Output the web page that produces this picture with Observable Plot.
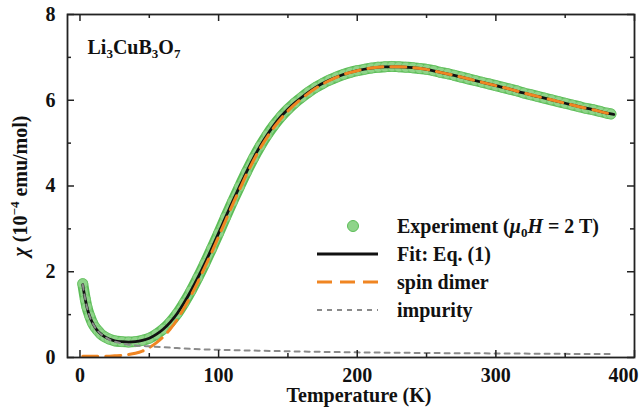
<!DOCTYPE html>
<html><head><meta charset="utf-8">
<script src="https://cdn.jsdelivr.net/npm/d3@7"></script>
<script src="https://cdn.jsdelivr.net/npm/@observablehq/plot@0.6"></script>
<style>
body{margin:0;background:#fff;}
#wrap{position:relative;width:639px;height:407px;overflow:hidden;}
#wrap svg{display:block;}
#legend{position:absolute;left:0;top:0;pointer-events:none;}
</style></head><body><div id="wrap"></div>
<script>
// ---- data ----
const expT = [2, 3.9, 5, 7, 9, 11, 13, 15, 18, 21, 25, 30, 35, 40, 45, 50, 55, 60, 65, 70, 75, 80, 85, 90, 95, 100, 105, 110, 115, 120, 125, 130, 135, 140, 145, 150, 155, 160, 165, 170, 175, 180, 185, 190, 195, 200, 205, 210, 215, 220, 225, 230, 235, 240, 245, 250, 255, 260, 265, 270, 275, 280, 285, 290, 295, 300, 305, 310, 315, 320, 325, 330, 335, 340, 345, 350, 355, 360, 365, 370, 375, 380, 383];
const expChi = [1.72, 1.35, 1.18, 0.97, 0.81, 0.70, 0.62, 0.55, 0.48, 0.43, 0.39, 0.37, 0.36, 0.37, 0.40, 0.45, 0.54, 0.66, 0.82, 1.02, 1.27, 1.55, 1.86, 2.19, 2.54, 2.90, 3.27, 3.63, 3.98, 4.32, 4.64, 4.93, 5.19, 5.42, 5.62, 5.79, 5.94, 6.07, 6.19, 6.30, 6.39, 6.47, 6.54, 6.60, 6.65, 6.69, 6.72, 6.75, 6.77, 6.78, 6.79, 6.78, 6.77, 6.76, 6.74, 6.72, 6.69, 6.65, 6.62, 6.58, 6.54, 6.50, 6.46, 6.42, 6.38, 6.34, 6.30, 6.26, 6.22, 6.17, 6.13, 6.09, 6.05, 6.01, 5.97, 5.93, 5.89, 5.85, 5.81, 5.78, 5.74, 5.70, 5.68];

const fitT = [2, 3, 4, 5, 6, 8, 10, 12, 15, 18, 21, 25, 30, 35, 40, 45, 50, 55, 60, 65, 70, 75, 80, 85, 90, 95, 100, 105, 110, 115, 120, 125, 130, 135, 140, 145, 150, 155, 160, 170, 180, 190, 200, 210, 220, 230, 240, 250, 260, 270, 280, 290, 300, 310, 320, 330, 340, 350, 360, 370, 380, 385];
const fitChi = [1.70, 1.50, 1.33, 1.18, 1.06, 0.88, 0.75, 0.65, 0.55, 0.48, 0.43, 0.39, 0.37, 0.36, 0.37, 0.40, 0.45, 0.54, 0.66, 0.82, 1.02, 1.27, 1.55, 1.86, 2.19, 2.54, 2.90, 3.27, 3.63, 3.98, 4.32, 4.64, 4.93, 5.19, 5.42, 5.62, 5.79, 5.94, 6.07, 6.30, 6.47, 6.60, 6.69, 6.75, 6.78, 6.78, 6.76, 6.72, 6.65, 6.58, 6.50, 6.42, 6.34, 6.26, 6.17, 6.09, 6.01, 5.93, 5.85, 5.78, 5.70, 5.67];

const dimerT = [2, 10, 20, 25, 30, 35, 40, 45, 50, 55, 60, 65, 70, 75, 80, 85, 90, 95, 100, 105, 110, 115, 120, 130, 140, 150, 160, 170, 180, 190, 200, 210, 220, 230, 240, 250, 260, 270, 280, 290, 300, 310, 320, 330, 340, 350, 360, 370, 380, 385];
const dimerChi = [0.03, 0.03, 0.03, 0.04, 0.05, 0.07, 0.10, 0.15, 0.23, 0.34, 0.48, 0.66, 0.88, 1.15, 1.44, 1.76, 2.10, 2.45, 2.82, 3.19, 3.56, 3.91, 4.26, 4.88, 5.37, 5.75, 6.04, 6.28, 6.46, 6.60, 6.69, 6.75, 6.78, 6.78, 6.76, 6.72, 6.65, 6.58, 6.50, 6.42, 6.34, 6.26, 6.17, 6.09, 6.01, 5.93, 5.85, 5.78, 5.70, 5.67];

const impT = [2, 3, 4, 5, 6, 8, 10, 12, 15, 18, 21, 25, 30, 35, 40, 45, 50, 60, 70, 80, 100, 120, 150, 200, 250, 300, 350, 385];
const impChi = [1.70, 1.50, 1.33, 1.18, 1.06, 0.88, 0.75, 0.65, 0.55, 0.48, 0.42, 0.37, 0.33, 0.30, 0.28, 0.27, 0.26, 0.24, 0.22, 0.20, 0.18, 0.165, 0.145, 0.12, 0.105, 0.095, 0.085, 0.08];

const xMajor = [0, 100, 200, 300, 400];
const xMinor = [50, 150, 250, 350];
const yMajor = [0, 2, 4, 6, 8];
const yMinor = [1, 3, 5, 7];
const xLabel = "Temperature (K)";
const yLabel = "χ (10−4 emu/mol)";
const compound = "Li3CuB3O7";
const legendNames = ["Experiment", "Fit: Eq. (1)", "spin dimer", "impurity"];

// ---- chart ----
const W = 639, H = 407, mL = 67, mR = 5, mT = 14, mB = 50;
const innerW = W - mL - mR, innerH = H - mT - mB;
const FONT = '"Liberation Serif","Times New Roman",serif';
const FS = 20;
const C = {exp: "#8fd48a", expEdge: "#5cbd58", fit: "#111111", dimer: "#f08522", imp: "#8a8a8a", axis: "#222"};
const txt = {fontFamily: FONT, fontWeight: "bold", fontSize: FS, fill: "#111"};

const rows = (ts, vs) => ts.map((t, i) => ({t, chi: vs[i]}));
const exp = rows(expT, expChi), fit = rows(fitT, fitChi), dimer = rows(dimerT, dimerChi), imp = rows(impT, impChi);

const chart = Plot.plot({
  width: W, height: H, marginLeft: mL, marginRight: mR, marginTop: mT, marginBottom: mB,
  style: {fontFamily: FONT, fontSize: FS + "px", fontWeight: "bold", color: "#111", background: "white", overflow: "visible"},
  x: {domain: [-9, 400]},
  y: {domain: [0, 8]},
  marks: [
    Plot.line(exp, {x: "t", y: "chi", stroke: C.expEdge, strokeWidth: 11, curve: "monotone-x"}),
    Plot.line(exp, {x: "t", y: "chi", stroke: C.exp, strokeWidth: 7.5, curve: "monotone-x"}),
    Plot.dot(exp, {x: "t", y: "chi", r: 5, fill: C.exp, stroke: "#6cc466", strokeWidth: 0.7}),
    Plot.line(fit, {x: "t", y: "chi", stroke: C.fit, strokeWidth: 2.8, curve: "monotone-x"}),
    Plot.line(dimer, {x: "t", y: "chi", stroke: C.dimer, strokeWidth: 3, strokeDasharray: "15,8", curve: "monotone-x"}),
    Plot.line(imp, {x: "t", y: "chi", stroke: C.imp, strokeWidth: 2, strokeDasharray: "5,5", curve: "monotone-x"}),
    // inward ticks on all four sides
    Plot.tickX(xMajor, {x: d => d, stroke: C.axis, strokeWidth: 1.5, insetTop: innerH - 7}),
    Plot.tickX(xMinor, {x: d => d, stroke: C.axis, strokeWidth: 1.5, insetTop: innerH - 4}),
    Plot.tickX(xMajor, {x: d => d, stroke: C.axis, strokeWidth: 1.5, insetBottom: innerH - 7}),
    Plot.tickX(xMinor, {x: d => d, stroke: C.axis, strokeWidth: 1.5, insetBottom: innerH - 4}),
    Plot.tickY(yMajor, {y: d => d, stroke: C.axis, strokeWidth: 1.5, insetRight: innerW - 7}),
    Plot.tickY(yMinor, {y: d => d, stroke: C.axis, strokeWidth: 1.5, insetRight: innerW - 4}),
    Plot.tickY(yMajor, {y: d => d, stroke: C.axis, strokeWidth: 1.5, insetLeft: innerW - 7}),
    Plot.tickY(yMinor, {y: d => d, stroke: C.axis, strokeWidth: 1.5, insetLeft: innerW - 4}),
    Plot.frame({stroke: C.axis, strokeWidth: 1.8}),
    Plot.axisX(xMajor.slice(0, 4), {tickSize: 0, tickPadding: 10, label: null, ...txt}),
    Plot.axisX([400], {tickSize: 0, tickPadding: 10, label: null, textAnchor: "end", dx: 4, ...txt}),
    Plot.axisY(yMajor, {tickSize: 0, tickPadding: 12, label: null, ...txt}),
    Plot.text([xLabel], {frameAnchor: "bottom", lineAnchor: "middle", textAnchor: "middle", dy: 38, dx: 8, ...txt}),
    Plot.text([yLabel], {frameAnchor: "left", lineAnchor: "middle", textAnchor: "middle", dx: -47, rotate: -90, ...txt}),
    Plot.text([compound], {frameAnchor: "top-left", lineAnchor: "middle", dx: 20, dy: 33, textAnchor: "start", ...txt})
  ]
});
document.getElementById("wrap").appendChild(chart);

// force the serif bold face on every text of the chart (axis labels included)
d3.select(chart).selectAll("text").style("font-family", FONT).style("font-weight", "bold").style("font-size", FS + "px");

// rich text (sub/superscripts, italics) for the annotation texts
const svgNS = "http://www.w3.org/2000/svg";
function rich(el, parts) {
  while (el.firstChild) el.removeChild(el.firstChild);
  for (const p of parts) {
    const ts = document.createElementNS(svgNS, "tspan");
    ts.textContent = p.t;
    if (p.i) ts.setAttribute("font-style", "italic");
    if (p.s) ts.style.fontSize = p.s + "px";
    if (p.dy) ts.setAttribute("dy", p.dy);
    el.appendChild(ts);
  }
}
d3.select(chart).selectAll("text").each(function() {
  const s = this.textContent;
  if (s === compound) {
    rich(this, [{t: "Li"}, {t: "3", s: 13, dy: 4}, {t: "CuB", dy: -4}, {t: "3", s: 13, dy: 4}, {t: "O", dy: -4}, {t: "7", s: 13, dy: 4}]);
  } else if (s === yLabel) {
    rich(this, [{t: "χ", i: true}, {t: " (10"}, {t: "−4", s: 13, dy: -8}, {t: " emu/mol)", dy: 8}]);
  }
});

// legend overlay
const lg = d3.select("#wrap").append("svg").attr("id", "legend").attr("width", W).attr("height", H)
  .style("font-family", FONT).style("font-size", FS + "px").style("font-weight", "bold");
const rowY = [226, 254, 282, 310];
const sx0 = 317, sx1 = 378, tx = 397;
lg.append("circle").attr("cx", 353).attr("cy", rowY[0]).attr("r", 5.5).attr("fill", C.exp).attr("stroke", C.expEdge).attr("stroke-width", 1);
lg.append("line").attr("x1", sx0).attr("x2", sx1).attr("y1", rowY[1]).attr("y2", rowY[1]).attr("stroke", C.fit).attr("stroke-width", 3);
lg.append("line").attr("x1", sx0).attr("x2", sx1).attr("y1", rowY[2]).attr("y2", rowY[2]).attr("stroke", C.dimer).attr("stroke-width", 3).attr("stroke-dasharray", "15,8");
lg.append("line").attr("x1", sx0).attr("x2", sx1).attr("y1", rowY[3]).attr("y2", rowY[3]).attr("stroke", C.imp).attr("stroke-width", 2).attr("stroke-dasharray", "5,5");
legendNames.forEach((name, i) => {
  const t = lg.append("text").attr("x", tx).attr("y", rowY[i]).attr("dy", "0.34em").attr("fill", "#111");
  if (i === 0) {
    rich(t.node(), [{t: name + " ("}, {t: "μ", i: true}, {t: "0", s: 13, dy: 4}, {t: "H", i: true, dy: -4}, {t: " = 2 T)"}]);
  } else t.text(name);
});
</script>
</body></html>
